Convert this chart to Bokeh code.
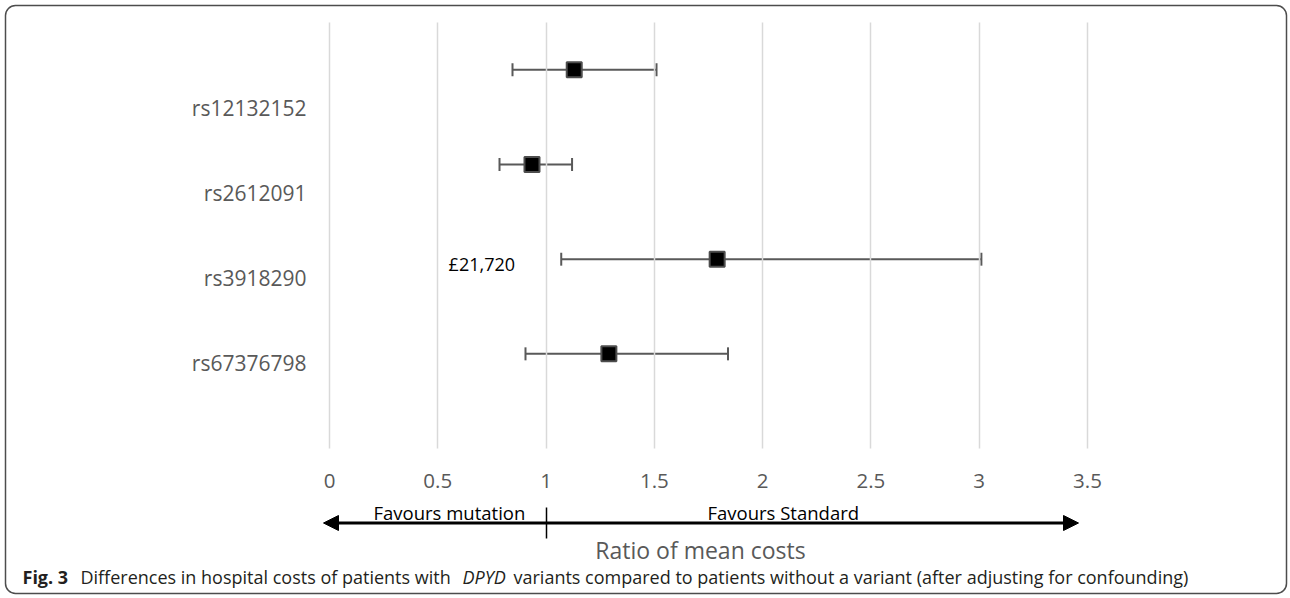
from bokeh.plotting import figure
from bokeh.models import (Range1d, FixedTicker, Whisker, TeeHead, Label, Arrow,
                          NormalHead, BoxAnnotation, ColumnDataSource, NumeralTickFormatter)
from bokeh.embed import file_html
from bokeh.resources import INLINE

# Ratio of mean hospital costs (variant vs no variant) with 95% CI
variants = ["rs12132152", "rs2612091", "rs3918290", "rs67376798"]
ratio = [1.13, 0.935, 1.79, 1.29]
ci_low = [0.845, 0.785, 1.07, 0.905]
ci_high = [1.51, 1.12, 3.01, 1.84]
row_pos = [4, 3, 2, 1]
label_pos = [3.6, 2.7, 1.8, 0.9]
x_ticks = [0, 0.5, 1, 1.5, 2, 2.5, 3, 3.5]
cost_note = "£21,720"

W, H = 1290, 598
FONT = "Open Sans"
GREY = "#595959"

# plotting area: x 0..3.5 spans pixels 329..1087, y 0..4.5 spans pixels 448..22
PX_X = (1087 - 329) / 3.5
PX_Y = (448 - 22) / 4.5
x_range = Range1d(-329 / PX_X, (W - 329) / PX_X)
y_range = Range1d(-(H - 448) / PX_Y, 4.5 + 22 / PX_Y)


def sy(top):
    # screen y for a distance measured from the top edge of the canvas
    return H - top


src = ColumnDataSource(dict(x=ratio, y=row_pos, lo=ci_low, hi=ci_high))

p = figure(width=W, height=H, x_range=x_range, y_range=y_range,
           output_backend="svg", toolbar_location=None,
           min_border_left=0, min_border_right=0, min_border_top=0, min_border_bottom=0)
p.outline_line_color = None
p.background_fill_color = "white"
p.border_fill_color = "white"
p.xgrid.visible = False
p.ygrid.visible = False

# x axis: vertical guide lines are the axis' own inward ticks
xa = p.xaxis[0]
xa.fixed_location = 0
xa.bounds = (0, 3.5)
xa.ticker = FixedTicker(ticks=x_ticks)
xa.formatter = NumeralTickFormatter(format="0.[0]")
xa.axis_line_color = None
xa.major_tick_in = 426
xa.major_tick_out = 0
xa.major_tick_line_color = "#d9d9d9"
xa.major_tick_line_width = 1.5
xa.minor_tick_line_color = None
xa.major_label_standoff = 25
xa.major_label_text_font = FONT
xa.major_label_text_font_size = "20.5px"
xa.major_label_text_color = GREY

ya = p.yaxis[0]
ya.fixed_location = 0
ya.ticker = FixedTicker(ticks=label_pos)
ya.major_label_overrides = dict(zip(label_pos, variants))
ya.axis_line_color = None
ya.major_tick_line_color = None
ya.major_tick_in = 0
ya.major_tick_out = 0
ya.minor_tick_line_color = None
ya.major_label_standoff = 23
ya.major_label_text_font = FONT
ya.major_label_text_font_size = "21px"
ya.major_label_text_color = GREY

# confidence intervals
ci = Whisker(base="y", lower="lo", upper="hi", dimension="width", source=src,
             line_color=GREY, line_width=2,
             lower_head=TeeHead(size=13, line_color=GREY, line_width=2),
             upper_head=TeeHead(size=13, line_color=GREY, line_width=2))
p.add_layout(ci)

# point estimates
p.scatter(x="x", y="y", source=src, marker="square", size=15,
          fill_color="black", line_color="#4d4d4d", line_width=2)

p.add_layout(Label(x=0.55, y=row_pos[2], text=cost_note, text_baseline="middle",
                   y_offset=-5, text_font=FONT, text_font_size="18px", text_color="black"))

# direction arrow under the axis
arrow_y = sy(522.5)
for x_end in (1078, 323):
    p.add_layout(Arrow(x_start=546, y_start=arrow_y, x_end=x_end, y_end=arrow_y,
                       start_units="screen", end_units="screen", line_width=3, line_color="black",
                       end=NormalHead(size=15, fill_color="black", line_color="black", line_width=1)))
p.add_layout(Arrow(x_start=546, y_start=sy(507), x_end=546, y_end=sy(538), end=None,
                   start_units="screen", end_units="screen", line_width=1.5, line_color="black"))

for txt, x0 in (("Favours mutation", 373), ("Favours Standard", 707)):
    p.add_layout(Label(x=x0, y=sy(512), x_units="screen", y_units="screen", text=txt,
                       text_baseline="middle", text_font=FONT, text_font_size="18.5px",
                       text_color="black"))

p.add_layout(Label(x=700, y=sy(549), x_units="screen", y_units="screen",
                   text="Ratio of mean costs", text_align="center", text_baseline="middle",
                   text_font=FONT, text_font_size="23px", text_color=GREY))

# caption
cap_y = sy(576)
caption = [
    ("Fig. 3", 22, "bold"),
    ("Differences in hospital costs of patients with", 80, "normal"),
    ("DPYD", 462, "italic"),
    ("variants compared to patients without a variant (after adjusting for confounding)", 513, "normal"),
]
for txt, x0, style in caption:
    p.add_layout(Label(x=x0, y=cap_y, x_units="screen", y_units="screen", text=txt,
                       text_baseline="middle", text_font=FONT, text_font_size="18px",
                       text_font_style=style, text_color="#231f20"))

# rounded frame around the figure
p.add_layout(BoxAnnotation(left=5, right=1286, top=sy(5), bottom=sy(593),
                           left_units="screen", right_units="screen",
                           top_units="screen", bottom_units="screen",
                           fill_alpha=0, line_color="#4d4d4d", line_alpha=1.0, line_width=1.5,
                           border_radius=10))

open("out.html", "w").write(file_html(p, INLINE))
